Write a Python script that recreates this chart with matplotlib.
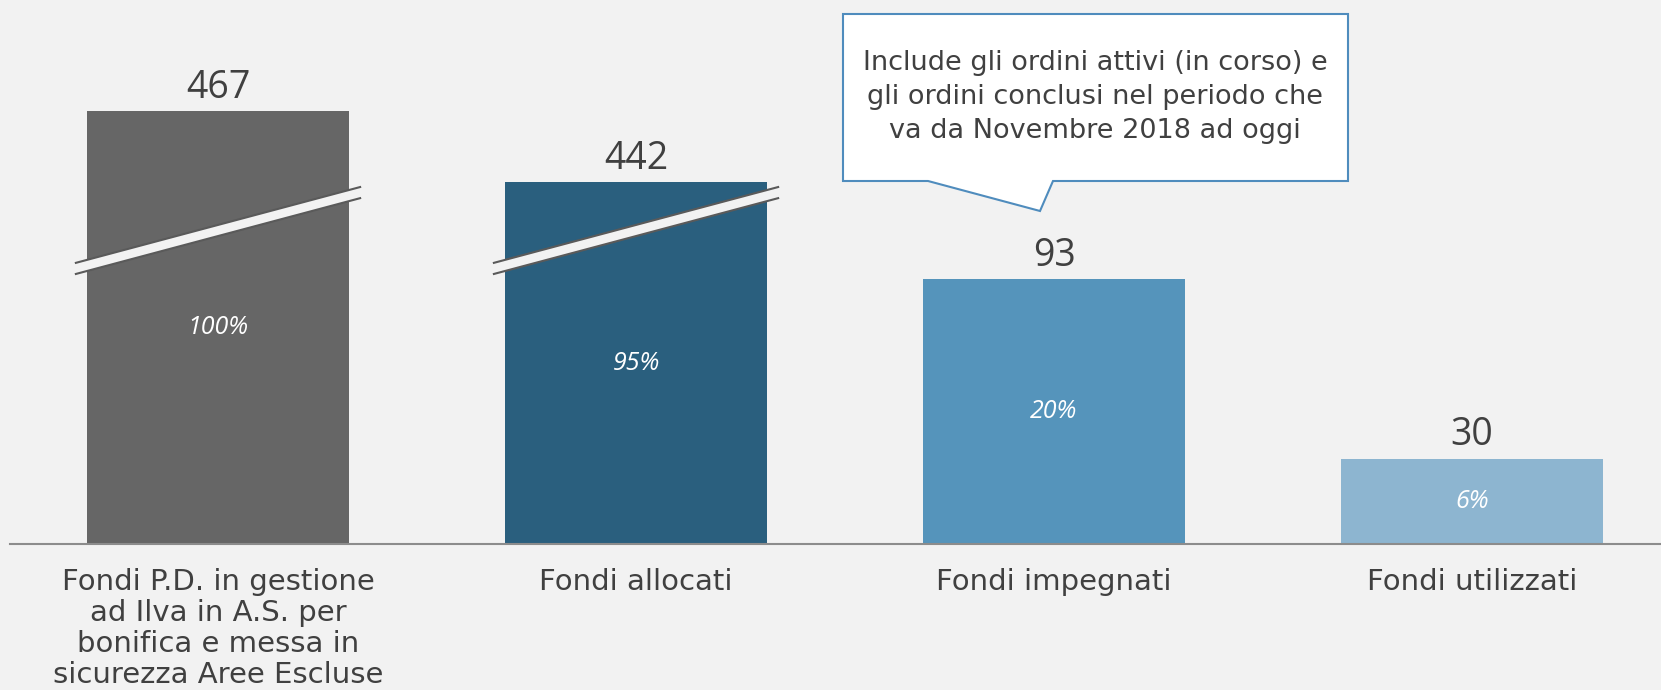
import numpy as np
from matplotlib import pyplot as plt
from matplotlib.patches import Polygon

plt.rcParams['font.family'] = ['Open Sans', 'DejaVu Sans']

# Data
categories = ['Fondi P.D. in gestione\nad Ilva in A.S. per\nbonifica e messa in\nsicurezza Aree Escluse',
              'Fondi allocati', 'Fondi impegnati', 'Fondi utilizzati']
values = [467, 442, 93, 30]
shares = ['100%', '95%', '20%', '6%']
colors = ['#666666', '#2a5f7e', '#5594bb', '#8db5d0']
note = 'Include gli ordini attivi (in corso) e\ngli ordini conclusi nel periodo che\nva da Novembre 2018 ad oggi'

# broken axis: values above the threshold are shown shortened by `cut`
threshold = 300
cut = 315
brk_at = 110

values = np.array(values)
shown = np.where(values > threshold, values - cut, values)
x = np.arange(len(values))

bg = '#f2f2f2'
txt = '#404040'
W, H = 1661, 690

fig = plt.figure(figsize=(W / 100, H / 100), dpi=100, facecolor=bg)
ax = fig.add_axes([10 / W, 146 / H, 1651 / W, 544 / H])
ax.set_facecolor('none')

ax.bar(x, shown, width=0.627, color=colors, zorder=2)

# break marks
hw, rise, th = 0.34, 13.3, 1.95
for c, v, s in zip(x, values, shown):
    if v > threshold:
        xs = [c - hw, c + hw, c + hw, c - hw]
        ys = [brk_at - rise - th, brk_at + rise - th, brk_at + rise + th, brk_at - rise + th]
        ax.add_patch(Polygon(list(zip(xs, ys)), closed=True, facecolor=bg, edgecolor='none', zorder=3))
        ax.plot([c - hw, c + hw], [brk_at - rise - th, brk_at + rise - th], color='#5a5a5a', lw=1.5, zorder=4)
        ax.plot([c - hw, c + hw], [brk_at - rise + th, brk_at + rise + th], color='#5a5a5a', lw=1.5, zorder=4)

# labels
for c, v, s, p in zip(x, values, shown, shares):
    ax.annotate(str(v), (c, s), xytext=(0, 9.5), textcoords='offset points',
                ha='center', va='baseline', fontsize=27, color=txt)
    ax.text(c, s / 2, p, ha='center', va='center', fontsize=18, color='white', style='italic', zorder=5)

ax.set_xlim(-0.4976, 3.452)
ax.set_ylim(0, 544 / 2.85)
ax.set_xticks(x, categories)
ax.tick_params(axis='x', length=0, pad=17, labelsize=21, labelcolor=txt)
plt.setp(ax.get_xticklabels(), linespacing=1.14, family='DejaVu Sans')
ax.set_yticks([])
for sp in ['top', 'right', 'left']:
    ax.spines[sp].set_visible(False)
ax.spines['bottom'].set_color('#8c8c8c')
ax.spines['bottom'].set_linewidth(1.5)

# callout
pts = [(843, 14), (1348, 14), (1348, 181), (1053, 181), (1040, 211), (928, 181), (843, 181)]
pts = [(px / W, 1 - py / H) for px, py in pts]
fig.add_artist(Polygon(pts, closed=True, facecolor='white', edgecolor='#4f8cbd', lw=1.5,
                       transform=fig.transFigure))
fig.text(1095 / W, 1 - 97 / H, note, ha='center', va='center', fontsize=19.5, color=txt,
         linespacing=1.4, family='DejaVu Sans')

fig.savefig('out.png', dpi=100, facecolor=bg)
